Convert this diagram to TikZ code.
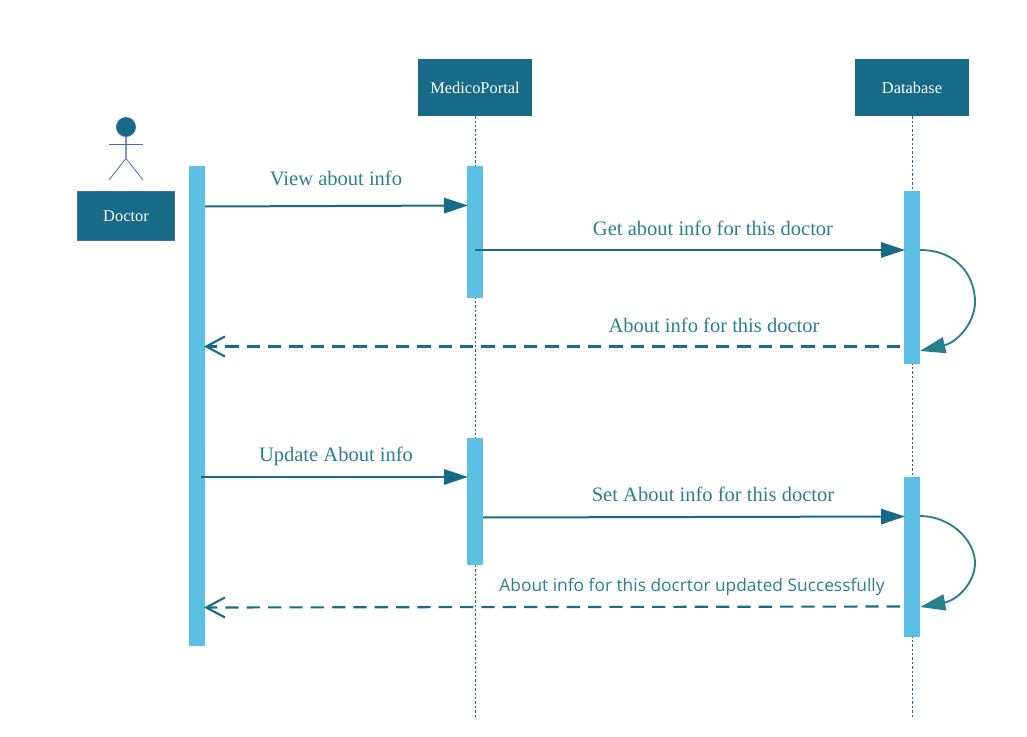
\documentclass[tikz,border=0pt]{standalone}
\usepackage{fontspec}
\setmainfont{Liberation Serif}
\newfontfamily\msgfont{Open Sans}
\usetikzlibrary{arrows.meta}
\definecolor{boxblue}{HTML}{176B87}
\definecolor{barblue}{HTML}{5BC0E4}
\definecolor{msgteal}{HTML}{2A7F8E}
\definecolor{actorline}{HTML}{4A63C8}

\begin{document}
\begin{tikzpicture}[x=0.75pt,y=-0.75pt,
  head node/.style={rectangle,fill=boxblue,text=white,minimum width=85.5pt,minimum height=42.75pt,inner sep=0pt,font=\fontsize{12.3}{14}\selectfont},
  bar node/.style={rectangle,fill=barblue,minimum width=12pt,inner sep=0pt},
  msg label/.style={text=msgteal,inner sep=0pt,font=\fontsize{15.4}{18}\selectfont},
  lifeline/.style={boxblue,line width=0.7pt,dash pattern=on 1.8pt off 1.5pt},
  call/.style={boxblue,line width=1.5pt,-{Triangle[length=18pt,width=11.5pt]}},
  reply/.style={boxblue,line width=1.6pt,dash pattern=on 10pt off 6pt,-{Straight Barb[length=14pt,width=15pt,line width=1.6pt]}},
  selfcall/.style={msgteal,line width=1.4pt,-{Triangle[length=19pt,width=12pt]}}]

  \useasboundingbox (0,0) rectangle (1027,737);

  \node[head node] (portal) at (475,87.5) {MedicoPortal};
  \node[head node] (db) at (912,87.5) {Database};
  \node[head node,draw=actorline,line width=0.7pt,minimum width=73pt,minimum height=37pt] (doctor) at (126,216) {Doctor};

  \coordinate (portalend) at (475,718);
  \coordinate (dbend) at (912,718);
  \draw[lifeline] (portal) -- (portalend);
  \draw[lifeline] (db) -- (dbend);

  \node[bar node,minimum height=360pt] (docbar) at (197,406) {};
  \node[bar node,minimum height=99pt] (portalbar1) at (475,232) {};
  \node[bar node,minimum height=95.25pt] (portalbar2) at (475,501.5) {};
  \node[bar node,minimum height=129.75pt] (dbbar1) at (912,277.5) {};
  \node[bar node,minimum height=120pt] (dbbar2) at (912,557) {};

  % actor
  \node[circle,fill=boxblue,draw=actorline,line width=0.4pt,minimum size=14.5pt,inner sep=0pt] (head) at (126,127) {};
  \coordinate (hip) at (126,158.5);
  \coordinate (armL) at (109,144);
  \coordinate (armR) at (143,144);
  \coordinate (legL) at (109,180);
  \coordinate (legR) at (143,180);
  \draw[actorline!70,line width=0.9pt] (head) -- (hip);
  \draw[actorline,line width=0.6pt] (armL) -- (armR);
  \draw[actorline,line width=0.6pt] (legL) -- (hip) -- (legR);

  \coordinate (a1) at (205,206.5);
  \coordinate (b1) at (468,205.5);
  \coordinate (a2) at (475,250);
  \coordinate (b2) at (905,250);
  \coordinate (a3) at (920,250);
  \coordinate (b3) at (920,351);
  \coordinate (a4) at (900,346.5);
  \coordinate (b4) at (204,346.5);
  \coordinate (a5) at (201,477);
  \coordinate (b5) at (468,477);
  \coordinate (a6) at (483,517.5);
  \coordinate (b6) at (905,516.5);
  \coordinate (a7) at (920,516);
  \coordinate (b7) at (920,607);
  \coordinate (a8) at (900,606.5);
  \coordinate (b8) at (204,607.5);

  \draw[call] (a1) to (b1);
  \draw[call] (a2) to (b2);
  \draw[selfcall] (a3) .. controls (958,250) and (975,277) .. (975,302) .. controls (975,322) and (958,342) .. (b3);
  \draw[reply] (a4) to (b4);
  \draw[call] (a5) to (b5);
  \draw[call] (a6) to (b6);
  \draw[selfcall] (a7) .. controls (950,516) and (975,540) .. (975,563) .. controls (975,582) and (958,600) .. (b7);
  \draw[reply] (a8) to (b8);

  \node[msg label] (m1) at (336,178.5) {View about info};
  \node[msg label] (m2) at (713,228.5) {Get about info for this doctor};
  \node[msg label] (m4) at (714,325) {About info for this doctor};
  \node[msg label] (m5) at (336,456.5) {Update About info};
  \node[msg label] (m6) at (713,494) {Set About info for this doctor};
  \node[msg label,font=\msgfont\fontsize{13}{15}\selectfont] (m8) at (692,587) {About info for this docrtor updated Successfully};
\end{tikzpicture}
\end{document}
